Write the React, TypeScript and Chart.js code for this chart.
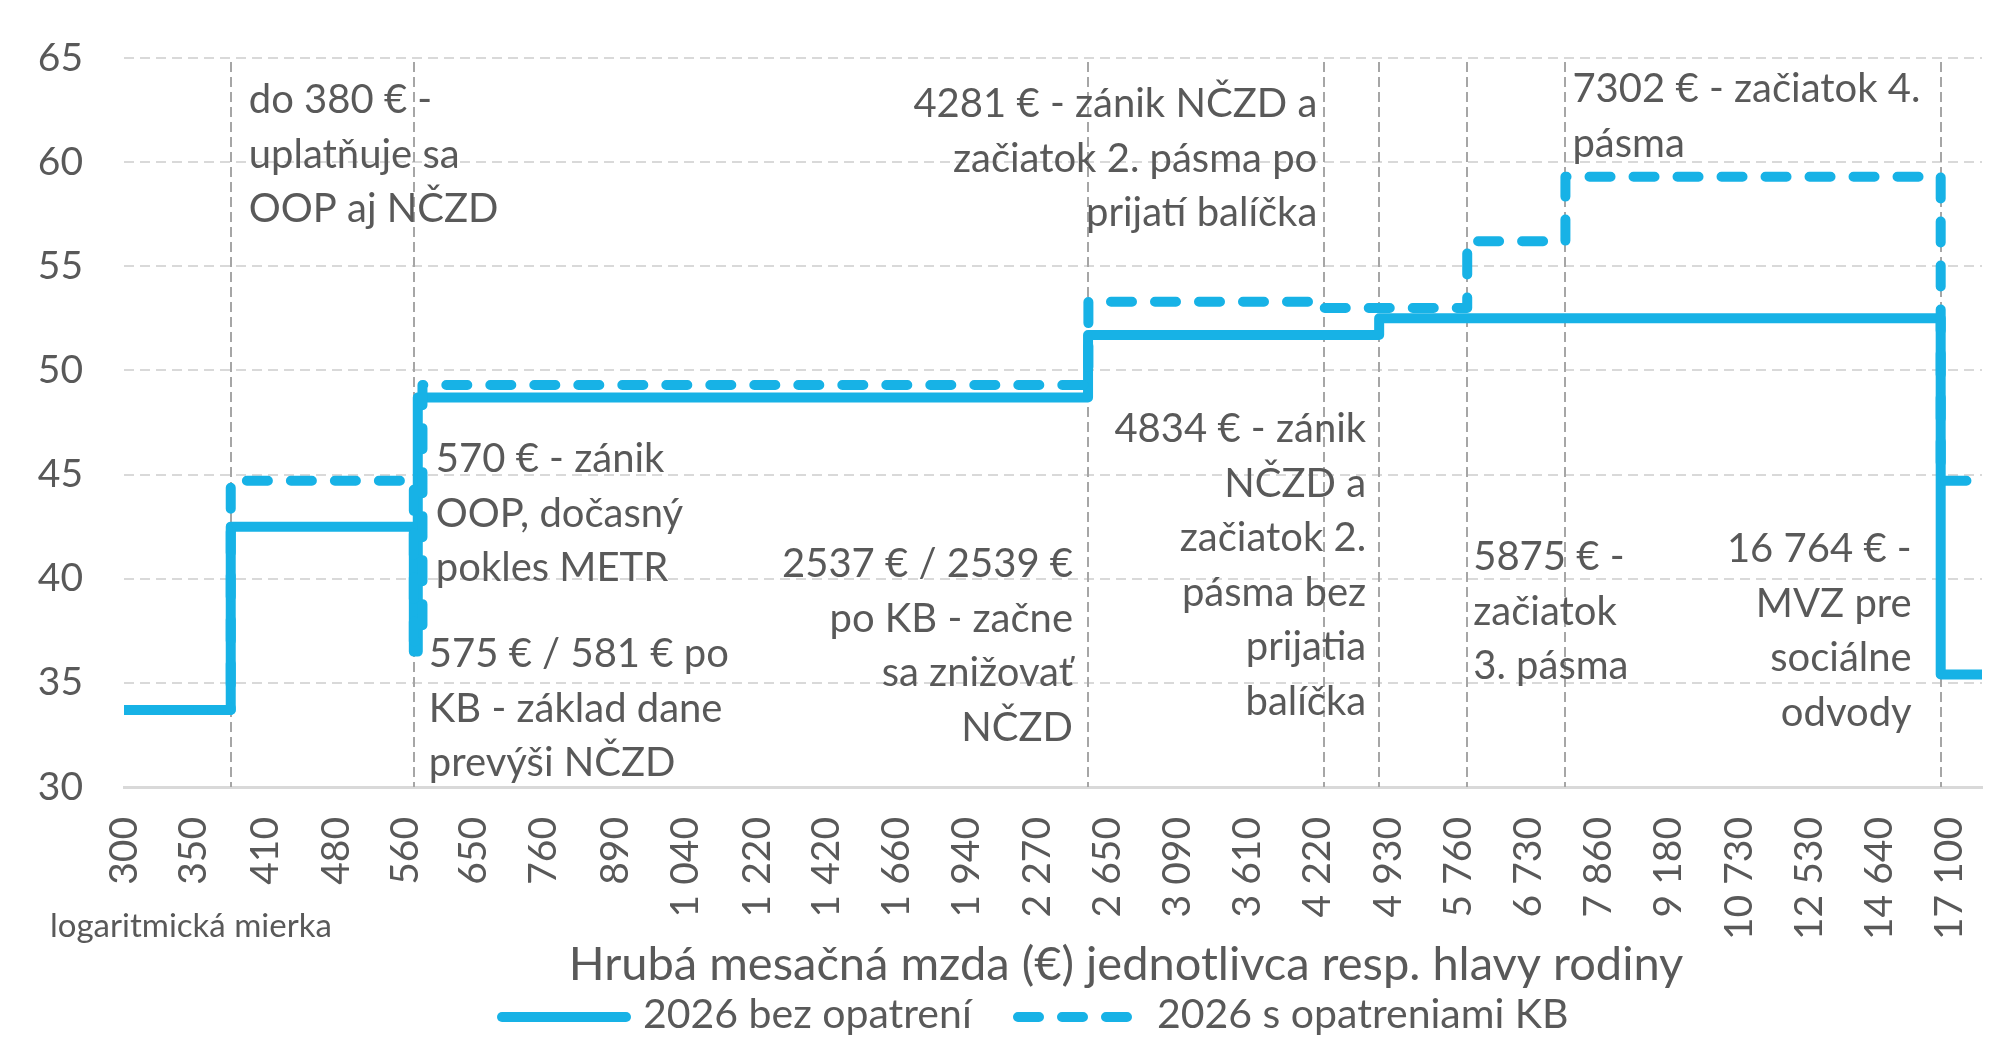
import React, { useEffect, useRef } from 'react';
import { Chart, registerables } from 'chart.js';

Chart.register(...registerables);

// ---------- data ----------
const tickValues = [300, 350, 410, 480, 560, 650, 760, 890, 1040, 1220, 1420, 1660, 1940, 2270, 2650, 3090, 3610, 4220, 4930, 5760, 6730, 7860, 9180, 10730, 12530, 14640, 17100];

const solidWages = [300, 380, 570, 575, 2537, 4834, 16764, 18370];
const solidRates = [33.7, 42.5, 36.5, 48.7, 51.7, 52.5, 35.4, 35.4];

const dashedWages = [300, 380, 570, 581, 2539, 4281, 5875, 7302, 16764, 18370];
const dashedRates = [33.7, 44.7, 37.0, 49.3, 53.3, 53.0, 56.2, 59.3, 44.7, 44.7];

const markerWages = [380, 570, 2537, 4281, 4834, 5875, 7302, 16764];

const seriesLabels = ['2026 bez opatrení', '2026 s opatreniami KB'];
const axisTitle = 'Hrubá mesačná mzda (€) jednotlivca resp. hlavy rodiny';
const scaleNote = 'logaritmická mierka';

const noteTexts = [
  ['do 380 € -', 'uplatňuje sa', 'OOP aj NČZD'],
  ['570 € - zánik', 'OOP, dočasný', 'pokles METR'],
  ['575 € / 581 € po', 'KB - základ dane', 'prevýši NČZD'],
  ['4281 € - zánik NČZD a', 'začiatok 2. pásma po', 'prijatí balíčka'],
  ['4834 € - zánik', 'NČZD a', 'začiatok 2.', 'pásma bez', 'prijatia', 'balíčka'],
  ['2537 € / 2539 €', 'po KB - začne', 'sa znižovať', 'NČZD'],
  ['7302 € - začiatok 4.', 'pásma'],
  ['5875 € -', 'začiatok', '3. pásma'],
  ['16 764 € -', 'MVZ pre', 'sociálne', 'odvody'],
];
const noteAnchors = [380, 570, 570, 4281, 4834, 2537, 7302, 5875, 16764];

// ---------- styles / layout ----------
const LINE_COLOR = '#17B2E6';
const TEXT_COLOR = '#595959';
const FONT = 'Lato';

const noteLayout: { align: CanvasTextAlign; dx: number; base: number }[] = [
  { align: 'left', dx: 18, base: 113 },
  { align: 'left', dx: 22, base: 472 },
  { align: 'left', dx: 15, base: 667 },
  { align: 'right', dx: -7, base: 117 },
  { align: 'right', dx: -13, base: 442 },
  { align: 'right', dx: -15, base: 577 },
  { align: 'left', dx: 7, base: 102 },
  { align: 'left', dx: 6, base: 570 },
  { align: 'right', dx: -29, base: 562 },
];
const NOTE_LINE = 54.5;

const fmt = (v: number) =>
  v >= 1000 ? `${Math.floor(v / 1000)} ${String(v % 1000).padStart(3, '0')}` : String(v);

const overlayPlugin = {
  id: 'overlay',
  beforeDatasetsDraw(chart: any) {
    const { ctx, chartArea, scales } = chart;
    ctx.save();
    ctx.strokeStyle = '#A6A6A6';
    ctx.lineWidth = 2;
    ctx.setLineDash([10, 5]);
    markerWages.forEach((w) => {
      const x = Math.round(scales.x.getPixelForValue(w));
      ctx.beginPath();
      ctx.moveTo(x, chartArea.top + 4);
      ctx.lineTo(x, chartArea.bottom);
      ctx.stroke();
    });
    ctx.restore();
  },
  afterDraw(chart: any) {
    const { ctx, scales } = chart;
    ctx.save();
    ctx.fillStyle = TEXT_COLOR;
    ctx.textBaseline = 'alphabetic';
    // annotations
    ctx.font = `40px ${FONT}`;
    noteTexts.forEach((lines, i) => {
      const L = noteLayout[i];
      const x = scales.x.getPixelForValue(noteAnchors[i]) + L.dx;
      ctx.textAlign = L.align;
      lines.forEach((t, j) => ctx.fillText(t, x, L.base + j * NOTE_LINE));
    });
    // scale note
    ctx.font = `33px ${FONT}`;
    ctx.textAlign = 'left';
    ctx.fillText(scaleNote, 50, 937);
    // axis title
    ctx.font = `47px ${FONT}`;
    ctx.textAlign = 'center';
    ctx.fillText(axisTitle, 1126, 980);
    // legend
    const ds = chart.data.datasets;
    ctx.lineCap = 'round';
    ctx.lineWidth = 10;
    ctx.strokeStyle = ds[0].borderColor;
    ctx.setLineDash([]);
    ctx.beginPath();
    ctx.moveTo(502, 1017);
    ctx.lineTo(626, 1017);
    ctx.stroke();
    ctx.strokeStyle = ds[1].borderColor;
    ctx.setLineDash(ds[1].borderDash);
    ctx.beginPath();
    ctx.moveTo(1018, 1017);
    ctx.lineTo(1130, 1017);
    ctx.stroke();
    ctx.font = `41px ${FONT}`;
    ctx.textAlign = 'left';
    ctx.fillText(ds[0].label, 643, 1028);
    ctx.fillText(ds[1].label, 1157, 1028);
    ctx.restore();
  },
};

export default function App() {
  const ref = useRef<HTMLCanvasElement>(null);
  useEffect(() => {
    let chart: Chart | null = null;
    let cancelled = false;
    const make = () => {
      if (cancelled || !ref.current) return;
      Chart.defaults.font.family = FONT;
      chart = new Chart(ref.current, {
        type: 'line',
        data: {
          datasets: [
            {
              label: seriesLabels[0],
              data: solidWages.map((x, i) => ({ x, y: solidRates[i] })),
              borderColor: LINE_COLOR,
              backgroundColor: LINE_COLOR,
              borderWidth: 10,
              stepped: 'before',
              pointRadius: 0,
              borderCapStyle: 'round',
              borderJoinStyle: 'round',
              fill: false,
              order: 2,
            },
            {
              label: seriesLabels[1],
              data: dashedWages.map((x, i) => ({ x, y: dashedRates[i] })),
              borderColor: LINE_COLOR,
              backgroundColor: LINE_COLOR,
              borderWidth: 10,
              borderDash: [21, 23],
              stepped: 'before',
              pointRadius: 0,
              borderCapStyle: 'round',
              borderJoinStyle: 'round',
              fill: false,
              order: 1,
            },
          ],
        },
        options: {
          responsive: false,
          animation: false,
          devicePixelRatio: 1,
          layout: { padding: { left: 0, right: 30, top: 58, bottom: 0 } },
          plugins: {
            legend: { display: false },
            tooltip: { enabled: false },
            title: { display: false },
          },
          scales: {
            x: {
              type: 'logarithmic',
              min: 300,
              max: 18370,
              bounds: 'data',
              grid: { display: false, drawTicks: false },
              border: { display: true, color: '#D9D9D9', width: 3 },
              ticks: {
                autoSkip: false,
                minRotation: 90,
                maxRotation: 90,
                padding: 30,
                color: TEXT_COLOR,
                font: { size: 39 },
                callback: (v: any) => fmt(Number(v)),
              },
              afterBuildTicks: (s: any) => {
                s.ticks = tickValues.map((v) => ({ value: v }));
              },
              afterFit: (s: any) => {
                s.height = 265;
                s.paddingLeft = 0;
                s.paddingRight = 0;
              },
            },
            y: {
              type: 'linear',
              min: 30,
              max: 65,
              ticks: { stepSize: 5, padding: 41, color: TEXT_COLOR, font: { size: 39 } },
              grid: { color: '#D9D9D9', lineWidth: 2, drawTicks: false },
              border: { display: false, dash: [10, 6] },
              afterFit: (s: any) => {
                s.width = 124;
                s.paddingTop = 0;
                s.paddingBottom = 0;
              },
            },
          },
        } as any,
        plugins: [overlayPlugin],
      });
    };
    const fontsReady = (document as any).fonts
      ? Promise.all([
          (document as any).fonts.load(`38px ${FONT}`),
          (document as any).fonts.load(`47px ${FONT}`),
        ])
      : Promise.resolve();
    fontsReady.then(make, make);
    return () => {
      cancelled = true;
      if (chart) chart.destroy();
    };
  }, []);
  return (
    <div style={{ position: 'fixed', left: 0, top: 0, width: 2012, height: 1052, background: '#fff' }}>
      <canvas ref={ref} width={2012} height={1052} style={{ display: 'block', width: 2012, height: 1052 }} />
    </div>
  );
}
